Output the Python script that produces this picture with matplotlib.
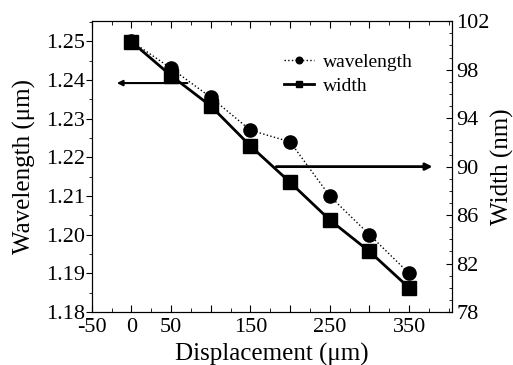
import numpy as np
import matplotlib
matplotlib.use("Agg")
import matplotlib.pyplot as plt
from matplotlib.ticker import MultipleLocator

plt.rcParams['font.family'] = ['Liberation Serif', 'DejaVu Serif']

# data
displacement = [0, 50, 100, 150, 200, 250, 300, 350]
wavelength = [1.250, 1.243, 1.2355, 1.227, 1.224, 1.210, 1.200, 1.190]
width = [100.3, 97.5, 95.0, 91.7, 88.7, 85.6, 83.0, 80.0]

xticks = [-50, 0, 50, 100, 150, 200, 250, 300, 350]
xticklabels = ['-50', '0', '50', '', '150', '', '250', '', '350']
yticks_left = [1.18, 1.19, 1.20, 1.21, 1.22, 1.23, 1.24, 1.25]
yticks_right = [78, 82, 86, 90, 94, 98, 102]

fig = plt.figure(figsize=(5.13, 3.65), dpi=100)
ax = fig.add_axes([0.179, 0.145, 0.702, 0.797])
ax2 = ax.twinx()

ax.plot(displacement, wavelength, color='black', ls=':', lw=1.0,
        marker='o', ms=9.5, label='wavelength')
ax2.plot(displacement, width, color='black', ls='-', lw=2.0,
         marker='s', ms=9.5, label='width')

ax.set_xlim(-50, 404)
ax.set_ylim(1.18, 1.2552)
ax2.set_ylim(78, 102)

ax.set_xticks(xticks)
ax.set_xticklabels(xticklabels)
ax.xaxis.set_minor_locator(MultipleLocator(25))
ax.set_yticks(yticks_left)
ax.set_yticklabels(['%.2f' % v for v in yticks_left])
ax.yaxis.set_minor_locator(MultipleLocator(0.005))
ax2.set_yticks(yticks_right)
ax2.yaxis.set_minor_locator(MultipleLocator(1))

ax.tick_params(axis='x', which='both', direction='in', top=True, labelsize=16, pad=4)
ax.tick_params(axis='x', which='major', length=5)
ax.tick_params(axis='x', which='minor', length=3)
ax.tick_params(axis='y', which='both', direction='out', labelsize=16, pad=1)
ax.tick_params(axis='y', which='major', length=4)
ax.tick_params(axis='y', which='minor', length=2)
ax2.tick_params(axis='y', which='both', direction='in', labelsize=16, pad=3)
ax2.tick_params(axis='y', which='major', length=4)
ax2.tick_params(axis='y', which='minor', length=2.5)

ax.set_xlabel('Displacement (\u03bcm)', fontsize=18)
ax.xaxis.set_label_coords(0.5, -0.105)
ax.set_ylabel('Wavelength (\u03bcm)', fontsize=18, labelpad=7)
ax2.set_ylabel('Width (nm)', fontsize=18, labelpad=1)

# arrows pointing to the respective axes
ax.annotate('', xy=(-22, 1.2392), xytext=(74, 1.2392),
            arrowprops=dict(arrowstyle='-|>', color='black', lw=1.5, mutation_scale=8))
ax2.annotate('', xy=(383, 90.0), xytext=(179, 90.0),
             arrowprops=dict(arrowstyle='-|>', color='black', lw=2.0, mutation_scale=10))

h1, l1 = ax.get_legend_handles_labels()
h2, l2 = ax2.get_legend_handles_labels()
leg = ax2.legend(h1 + h2, l1 + l2, loc='upper left', bbox_to_anchor=(0.486, 0.95),
                 frameon=False, fontsize=14, handlelength=1.5, markerscale=0.5,
                 handletextpad=0.5, labelspacing=0.35)

fig.savefig('out.png', dpi=100)
